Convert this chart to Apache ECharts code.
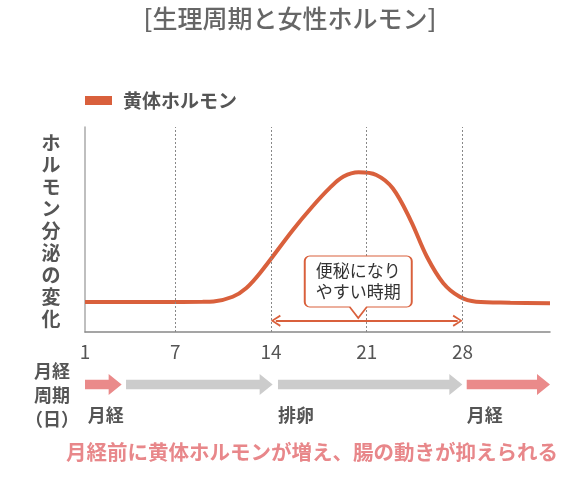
<!DOCTYPE html>
<html>
<head>
<meta charset="utf-8">
<script src="https://cdn.jsdelivr.net/npm/echarts@6/dist/echarts.min.js"></script>
<style>
  html, body { margin: 0; padding: 0; background: #fff; }
  #chart { width: 580px; height: 490px; }
</style>
</head>
<body>
<div id="chart"></div>
<script>
// 周期の日数と黄体ホルモン量（相対値）
const cycleDays = [0.4, 3, 6, 9, 9.8, 11.2, 12.2, 13.2, 15.6, 17.0, 18.3, 19.3, 20.4, 21.7, 22.9, 24.2, 25.4, 26.6, 27.8, 29.0, 31.5, 34.4];
const progesterone = [14.6, 14.6, 14.6, 14.7, 14.9, 17.2, 21.5, 28.8, 49.8, 61.0, 70.3, 75.8, 77.9, 76.6, 70.1, 54.6, 36.7, 23.8, 17.2, 14.8, 14.3, 14.0];

const tickDays = [0.4, 7, 14, 21, 28];
const tickLabels = ['1', '7', '14', '21', '28'];
const weekDays = [7, 14, 21, 28];

const seriesName = '黄体ホルモン';
const yName = 'ホルモン分泌の変化';
const calloutText = '便秘になり\nやすい時期';
const phaseLabels = ['月経', '排卵', '月経'];
const caption = '月経前に黄体ホルモンが増え、腸の動きが抑えられる';

const FONT = '"Noto Sans CJK JP", "Noto Sans", sans-serif';
const ORANGE = '#d9603c';
const PINK = '#ea8a8a';
const GRAY_ARROW = '#cccccc';
const TEXT = '#555';

const chart = echarts.init(document.getElementById('chart'));

const chevron = 'path://M0,10 L5,0 L10,10 L8.6,11 L5,3.2 L1.4,11 Z';
const callout = 'path://M5,0 H102 A5,5 0 0 1 107,5 V46 A5,5 0 0 1 102,51 H62 L53.5,62 L45,51 H5 A5,5 0 0 1 0,46 V5 A5,5 0 0 1 5,0 Z';

chart.setOption({
  animation: false,
  textStyle: { fontFamily: FONT },
  title: {
    text: '[生理周期と女性ホルモン]',
    left: 'center',
    top: 1,
    textStyle: { fontSize: 25, fontWeight: 500, color: '#666', fontFamily: FONT }
  },
  legend: {
    data: [seriesName],
    left: 80,
    top: 86,
    icon: 'rect',
    itemWidth: 27,
    itemHeight: 9,
    textStyle: { fontSize: 19, fontWeight: 'bold', color: TEXT, padding: [0, 0, 0, 6] }
  },
  grid: { left: 85, right: 30, top: 127, bottom: 158 },
  xAxis: {
    type: 'value',
    min: 0.4,
    max: 34.4,
    axisLine: { lineStyle: { color: '#888', width: 1.5 } },
    axisTick: { show: false },
    splitLine: { show: false },
    axisLabel: {
      customValues: tickDays,
      formatter: (v) => tickLabels[tickDays.indexOf(v)],
      fontSize: 19,
      color: TEXT,
      margin: 10
    }
  },
  yAxis: {
    type: 'value',
    min: 0,
    max: 100,
    axisLine: { show: true, lineStyle: { color: '#aaa', width: 1.5 } },
    axisTick: { show: false },
    axisLabel: { show: false },
    splitLine: { show: false }
  },
  series: [{
    name: seriesName,
    type: 'line',
    data: cycleDays.map((d, i) => [d, progesterone[i]]),
    smooth: 0.35,
    showSymbol: false,
    itemStyle: { color: ORANGE },
    lineStyle: { color: ORANGE, width: 4 },
    markLine: {
      silent: true,
      symbol: 'none',
      label: { show: false },
      data: weekDays.map(d => ({
        xAxis: d,
        lineStyle: { color: '#888', type: [2, 2], width: 1 }
      })).concat([[
        { coord: [14.35, 5.5], symbol: chevron, symbolSize: [12, 10],
          lineStyle: { color: ORANGE, type: 'solid', width: 2 } },
        { coord: [27.65, 5.5], symbol: chevron, symbolSize: [12, 10] }
      ]])
    },
    markPoint: {
      silent: true,
      data: [{
        coord: [20.38, 21.95],
        symbol: callout,
        symbolSize: [107, 62],
        itemStyle: { color: '#fff', borderColor: ORANGE, borderWidth: 1.5 },
        label: {
          show: true,
          position: 'inside',
          formatter: calloutText,
          offset: [0, -5.5],
          fontSize: 17,
          lineHeight: 21,
          color: '#333'
        }
      }]
    }
  }]
});

function px(day) {
  return chart.convertToPixel({ xAxisIndex: 0 }, day);
}

function arrow(x0, x1, color) {
  const cy = 384.5, sh = 4.7, hh = 10.5, hl = 13;
  const xh = x1 - hl;
  return {
    type: 'polygon',
    silent: true,
    shape: { points: [[x0, cy - sh], [xh, cy - sh], [xh, cy - hh], [x1, cy], [xh, cy + hh], [xh, cy + sh], [x0, cy + sh]] },
    style: { fill: color }
  };
}

function label(text, x, y, opts) {
  return {
    type: 'text',
    silent: true,
    x: x, y: y,
    style: Object.assign({
      text: text, font: 'bold 18px ' + FONT, fill: TEXT,
      textAlign: 'left', textVerticalAlign: 'middle'
    }, opts || {})
  };
}

chart.setOption({
  graphic: [
    label(yName.split('').join('\n'), 51, 230.5, { font: 'bold 19px ' + FONT, lineHeight: 22, textAlign: 'center' }),
    label('月経\n周期\n（日）', 52, 395, { lineHeight: 24, textAlign: 'center' }),
    arrow(px(0.4), px(3.08), PINK),
    arrow(px(3.4), px(14.12), GRAY_ARROW),
    arrow(px(14.51), px(27.99), GRAY_ARROW),
    arrow(px(28.31), px(34.4), PINK),
    label(phaseLabels[0], px(0.6), 415),
    label(phaseLabels[1], px(14.51), 415),
    label(phaseLabels[2], px(28.31), 415),
    label(caption, 312, 452, { font: 'bold 20.5px ' + FONT, fill: '#e8878a', textAlign: 'center' })
  ]
});
</script>
</body>
</html>
